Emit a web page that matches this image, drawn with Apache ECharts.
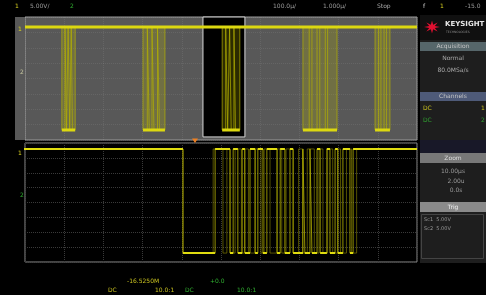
<!DOCTYPE html>
<html>
<head>
<meta charset="utf-8">
<script src="https://cdn.jsdelivr.net/npm/echarts@6/dist/echarts.min.js"></script>
<style>
html, body { margin: 0; padding: 0; background: #000; }
#scope { width: 486px; height: 295px; }
</style>
</head>
<body>
<div id="scope"></div>
<script>
// logic levels, in vertical divisions (8 per panel)
var mainHigh = 7.35, mainLow = 0.65;
var zoomHigh = 7.6, zoomLow = 0.6;

// main timebase (10 div): low pulses inside each packet
var mainLows = [
  [0.94, 1.02], [1.06, 1.10], [1.14, 1.18], [1.21, 1.28],
  [3.01, 3.12], [3.17, 3.24], [3.29, 3.38], [3.43, 3.57],
  [5.03, 5.12], [5.17, 5.22], [5.26, 5.33], [5.37, 5.48],
  [7.09, 7.25], [7.32, 7.45], [7.52, 7.66], [7.72, 7.96],
  [8.93, 9.02], [9.08, 9.16], [9.22, 9.31]
];
// packet envelopes (persistence blur)
var mainBursts = [[0.94, 1.28], [3.01, 3.57], [5.03, 5.48], [7.09, 7.96], [8.93, 9.31]];
var zoomWindow = [4.54, 5.61];

// zoomed timebase: two overlaid captures
var zoomLows = [
  [4.03, 4.85], [5.23, 5.31], [5.43, 5.54], [5.61, 5.74], [5.87, 5.94],
  [6.07, 6.17], [6.43, 6.51], [6.63, 6.76], [6.84, 7.09], [7.14, 7.27],
  [7.32, 7.45], [7.53, 7.70], [7.78, 7.91], [7.98, 8.11], [8.29, 8.37]
];
var zoomLows2 = [
  [4.03, 4.80], [5.05, 5.15], [5.23, 5.36], [5.52, 5.60], [5.70, 5.87],
  [6.02, 6.10], [6.25, 6.43], [6.55, 6.66], [6.84, 6.98], [7.08, 7.20],
  [7.38, 7.50], [7.60, 7.72], [7.85, 7.98], [8.05, 8.20], [8.33, 8.46]
];

var topTexts = [
  ['1', 15, '#d8d020'], ['5.00V/', 30, '#9a9a9a'], ['2', 70, '#30b030'],
  ['100.0µ/', 273, '#9a9a9a'], ['1.000µ/', 323, '#9a9a9a'], ['Stop', 377, '#aaaaaa'],
  ['f', 423, '#cccccc'], ['1', 440, '#d8d020'], ['-15.0', 465, '#9a9a9a']
];

// full trace (edges included)
function wave(lows, hi, lo, x0, x1) {
  var pts = [[x0, hi]];
  lows.forEach(function (p) {
    pts.push([p[0], hi], [p[0], lo], [p[1], lo], [p[1], hi]);
  });
  pts.push([x1, hi]);
  return pts;
}
// only the flat parts, brighter on screen
function flats(lows, hi, lo, x0, x1) {
  var pts = [], prev = x0;
  lows.forEach(function (p) {
    if (p[0] - prev > 0.06) pts.push([prev, hi], [p[0], hi], [p[0], '-']);
    pts.push([p[0], lo], [p[1], lo], [p[1], '-']);
    prev = p[1];
  });
  pts.push([prev, hi], [x1, hi]);
  return pts;
}
// persistence: high line stays lit, low bar spans the packet
function levels(bursts, hi, lo, x0, x1) {
  var pts = [[x0, hi], [x1, hi], [x1, '-']];
  bursts.forEach(function (b) { pts.push([b[0], lo], [b[1], lo], [b[1], '-']); });
  return pts;
}

var chart = echarts.init(document.getElementById('scope'));
var font = 'DejaVu Sans';

function txt(t, x, y, fill, size, align, bold) {
  return { type: 'text', x: x, y: y, z: 50,
    style: { text: t, fill: fill, fontSize: size || 6, fontFamily: font,
      fontWeight: bold ? 'bold' : 'normal', align: align || 'left', verticalAlign: 'middle' } };
}
function box(x, y, w, h, fill, stroke) {
  return { type: 'rect', z: 40, shape: { x: x, y: y, width: w, height: h },
    style: { fill: fill || 'none', stroke: stroke || null, lineWidth: 1 } };
}

var star = [];
for (var i = 0; i < 16; i++) {
  var a = i * Math.PI / 8, r = i % 2 ? 3 : 8;
  star.push([432 + r * Math.cos(a), 27 + r * Math.sin(a) * 0.8]);
}

var graphics = [
  box(15, 17, 10, 123, '#585858'),
  // right side panel
  box(420, 15, 66, 248, '#1e1e1e'),
  box(420, 15, 66, 25, '#101010'),
  { type: 'polygon', z: 45, shape: { points: star }, style: { fill: '#e01030' } },
  txt('KEYSIGHT', 445, 24, '#e6e6e6', 7, 'left', true),
  txt('TECHNOLOGIES', 446, 32, '#888888', 3),
  box(420, 42, 66, 9, '#56666a'),
  txt('Acquisition', 453, 46.5, '#c4c4c4', 6, 'center'),
  txt('Normal', 453, 58, '#aaaaaa', 6, 'center'),
  txt('80.0MSa/s', 453, 70, '#aaaaaa', 6, 'center'),
  box(420, 92, 66, 9, '#4e5a78'),
  txt('Channels', 453, 96.5, '#c4c4c4', 6, 'center'),
  txt('DC', 423, 108, '#c8c020', 6),
  txt('1', 481, 108, '#c8c020', 6),
  txt('DC', 423, 120, '#30a030', 6),
  txt('2', 481, 120, '#30a030', 6),
  box(420, 140, 66, 13, '#181828'),
  box(420, 153, 66, 10, '#787878'),
  txt('Zoom', 453, 158, '#dddddd', 6, 'center'),
  txt('10.00µs', 453, 171, '#999999', 6, 'center'),
  txt('2.00u', 456, 181, '#999999', 6, 'center'),
  txt('0.0s', 456, 190, '#999999', 6, 'center'),
  box(420, 202, 66, 10, '#8a8a8a'),
  txt('Trig', 453, 207, '#eeeeee', 6, 'center'),
  box(421.5, 214.5, 62, 44, null, '#444444'),
  txt('Sc1  5.00V', 424, 220, '#999999', 5),
  txt('Sc2  5.00V', 424, 229, '#999999', 5),
  // ground markers and trigger marker
  txt('1', 18, 29, '#d8d020', 6),
  txt('2', 20, 72, '#c8c8a0', 6),
  txt('1', 18, 153, '#d8d020', 6),
  txt('2', 20, 195, '#30b030', 6),
  { type: 'polygon', z: 45, shape: { points: [[192, 138.5], [198, 138.5], [195, 143]] },
    style: { fill: '#f08020' } },
  // bottom readout
  txt('-16.5250M', 127, 281, '#c8c020', 6),
  txt('+0.0', 210, 281, '#30b030', 6),
  txt('DC', 108, 290, '#c8c020', 6),
  txt('10.0:1', 155, 290, '#c8c020', 6),
  txt('DC', 185, 290, '#30b030', 6),
  txt('10.0:1', 237, 290, '#30b030', 6)
];
topTexts.forEach(function (t) { graphics.push(txt(t[0], t[1], 6, t[2], 6)); });

function xAx(idx, gridColor) {
  return { type: 'value', gridIndex: idx, min: 0, max: 10, interval: 1,
    axisLine: { show: false }, axisTick: { show: false }, axisLabel: { show: false },
    splitLine: { show: true, lineStyle: { color: gridColor, type: 'dotted' } } };
}
function yAx(idx, gridColor) {
  return { type: 'value', gridIndex: idx, min: 0, max: 8, interval: 1,
    axisLine: { show: false }, axisTick: { show: false }, axisLabel: { show: false },
    splitLine: { show: true, lineStyle: { color: gridColor, type: 'dotted' } } };
}

var areas = [[
  { xAxis: zoomWindow[0], yAxis: 0.2, itemStyle: { color: '#000', borderColor: '#d8d8d8', borderWidth: 1 } },
  { xAxis: zoomWindow[1], yAxis: 8 }
]];
mainBursts.forEach(function (b) {
  areas.push([
    { xAxis: b[0], yAxis: mainLow, itemStyle: { color: 'rgba(200,195,0,0.22)' } },
    { xAxis: b[1], yAxis: mainHigh }
  ]);
});

function trace(xi, data, color, width, opacity, z) {
  return { type: 'line', xAxisIndex: xi, yAxisIndex: xi, z: z, clip: false,
    showSymbol: false, symbol: 'none', connectNulls: false, data: data,
    lineStyle: { color: color, width: width, opacity: opacity } };
}

chart.setOption({
  backgroundColor: '#000',
  animation: false,
  graphic: graphics,
  grid: [
    { left: 25, top: 17, width: 392, height: 123, show: true,
      backgroundColor: '#585858', borderColor: '#9a9a9a', borderWidth: 1 },
    { left: 25, top: 143, width: 392, height: 119, show: true,
      backgroundColor: '#000', borderColor: '#8a8a8a', borderWidth: 1 }
  ],
  xAxis: [xAx(0, 'rgba(255,255,255,0.08)'), xAx(1, '#3a3a3a')],
  yAxis: [yAx(0, 'rgba(255,255,255,0.08)'), yAx(1, '#3a3a3a')],
  series: [
    { type: 'line', xAxisIndex: 0, yAxisIndex: 0, data: [], z: 1,
      markArea: { silent: true, data: areas } },
    trace(0, wave(mainLows, mainHigh, mainLow, -0.2, 10), '#b4b000', 1, 0.7, 4),
    trace(0, levels(mainBursts, mainHigh, mainLow, -0.2, 10), '#dcd810', 3, 1, 5),
    trace(1, wave(zoomLows2, zoomHigh, zoomLow, -0.2, 10), '#9a9600', 1, 0.55, 3),
    trace(1, wave(zoomLows, zoomHigh, zoomLow, -0.2, 10), '#b8b400', 1, 0.8, 4),
    trace(1, flats(zoomLows, zoomHigh, zoomLow, -0.2, 10), '#e0dc10', 2, 1, 5)
  ]
});
</script>
</body>
</html>
